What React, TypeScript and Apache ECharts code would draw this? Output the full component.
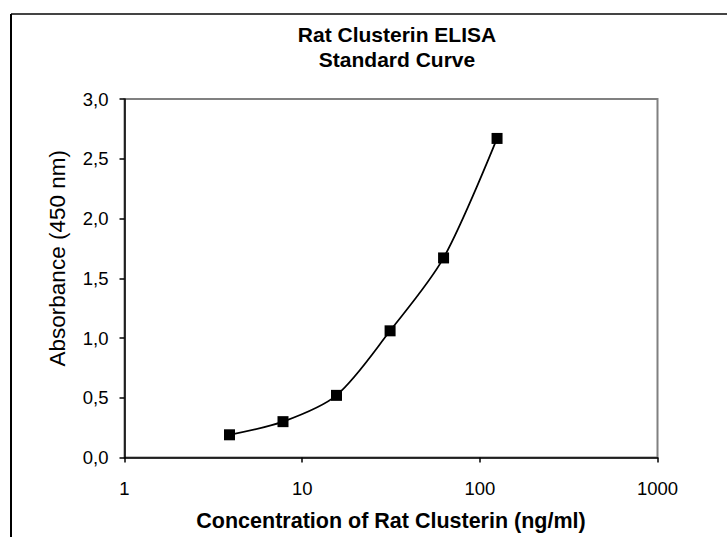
import React, { useEffect, useRef } from "react";
import * as echarts from "echarts";

const titleLines = ["Rat Clusterin ELISA", "Standard Curve"];
const xAxisName = "Concentration of Rat Clusterin (ng/ml)";
const yAxisName = "Absorbance (450 nm)";
const concentrations = [3.9, 7.8, 15.6, 31.25, 62.5, 125];
const absorbance = [0.19, 0.3, 0.52, 1.06, 1.67, 2.67];
const xRange = [1, 1000];
const yRange = [0, 3];
const yStep = 0.5;

const FONT = "'Liberation Sans', Arial, sans-serif";

export default function App() {
  const ref = useRef<HTMLDivElement>(null);

  useEffect(() => {
    if (!ref.current) return;
    const chart = echarts.init(ref.current, null, { renderer: "svg" });
    const data = concentrations.map((c, i) => [c, absorbance[i]]);
    chart.setOption({
      animation: false,
      backgroundColor: "#ffffff",
      textStyle: { fontFamily: FONT, color: "#000" },
      title: {
        text: titleLines.join("\n"),
        left: 392,
        textAlign: "center",
        top: 16.5,
        textStyle: {
          fontFamily: FONT,
          fontSize: 21,
          fontWeight: "bold",
          color: "#000",
          lineHeight: 25,
        },
      },
      graphic: [
        {
          type: "line",
          shape: { x1: 11, y1: 14, x2: 727, y2: 14 },
          style: { stroke: "#444", lineWidth: 2 },
          silent: true,
        },
        {
          type: "line",
          shape: { x1: 11, y1: 14, x2: 11, y2: 537 },
          style: { stroke: "#000", lineWidth: 2 },
          silent: true,
        },
      ],
      grid: {
        left: 124.5,
        top: 99,
        width: 533,
        height: 358.5,
        show: true,
        borderColor: "#808080",
        borderWidth: 2,
        backgroundColor: "transparent",
      },
      xAxis: {
        type: "log",
        logBase: 10,
        min: xRange[0],
        max: xRange[1],
        name: xAxisName,
        nameLocation: "middle",
        nameGap: 52,
        nameTextStyle: {
          fontFamily: FONT,
          fontSize: 21.5,
          fontWeight: "bold",
          color: "#000",
        },
        axisLine: { show: true, lineStyle: { color: "#000", width: 1.5 } },
        axisTick: { show: true, inside: false, length: 5, lineStyle: { color: "#000", width: 1.5 } },
        minorTick: { show: false },
        splitLine: { show: false },
        axisLabel: {
          fontFamily: FONT,
          fontSize: 18.5,
          color: "#000",
          margin: 21,
          formatter: (v: number) => String(Math.round(v)),
        },
      },
      yAxis: {
        type: "value",
        min: yRange[0],
        max: yRange[1],
        interval: yStep,
        name: yAxisName,
        nameLocation: "middle",
        nameGap: 56,
        nameTextStyle: {
          fontFamily: FONT,
          fontSize: 22.5,
          color: "#000",
          padding: [0, 0, 0, 40],
        },
        axisLine: { show: true, lineStyle: { color: "#000", width: 1.5 } },
        axisTick: { show: true, inside: false, length: 5, lineStyle: { color: "#000", width: 1.5 } },
        splitLine: { show: false },
        axisLabel: {
          fontFamily: FONT,
          fontSize: 18.5,
          color: "#000",
          margin: 16,
          formatter: (v: number) => v.toFixed(1).replace(".", ","),
        },
      },
      series: [
        {
          type: "line",
          data,
          smooth: 0.3,
          symbol: "rect",
          symbolSize: 11,
          itemStyle: { color: "#000" },
          lineStyle: { color: "#000", width: 1.75 },
          z: 3,
        },
      ],
    });
    return () => chart.dispose();
  }, []);

  return (
    <div
      ref={ref}
      style={{ position: "fixed", left: 0, top: 0, width: 727, height: 537 }}
    />
  );
}
